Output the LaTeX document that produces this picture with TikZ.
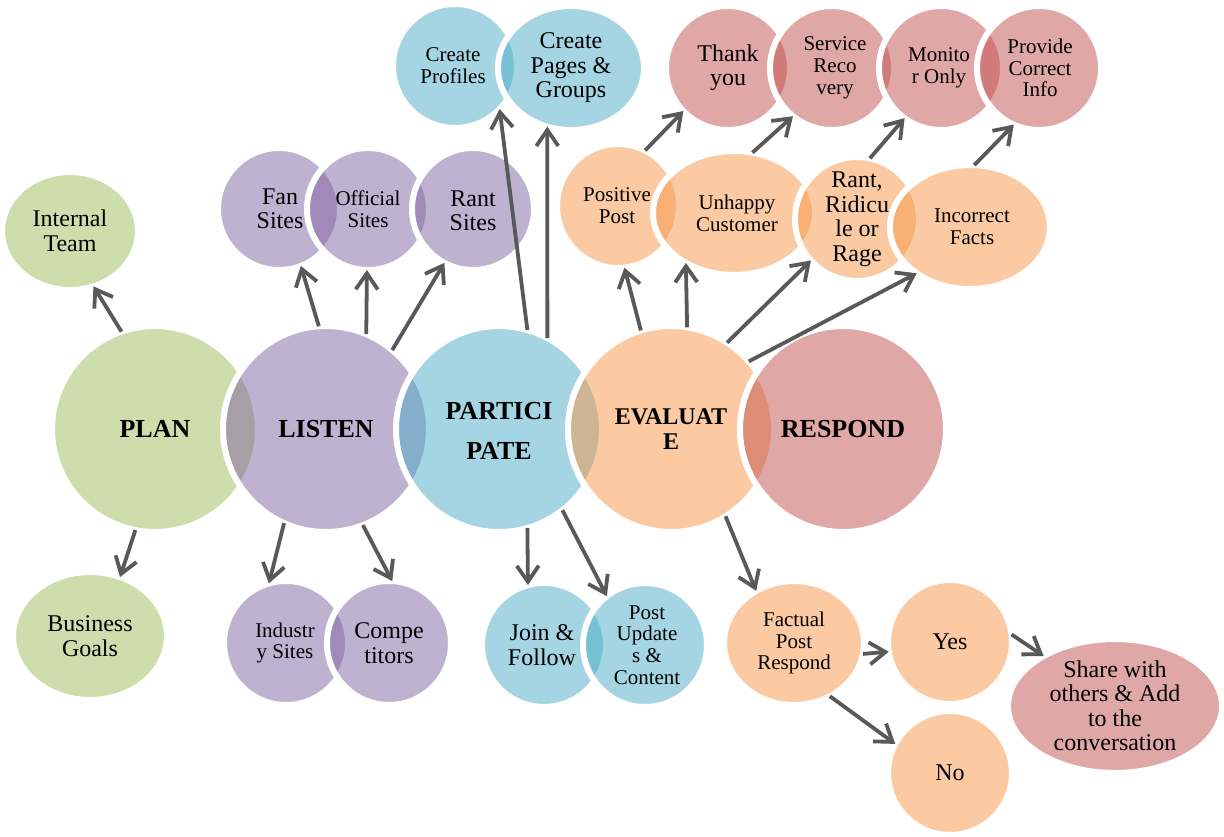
\documentclass[tikz,border=0pt]{standalone}
\usepackage{fontspec}
\setmainfont{Liberation Serif}
\usetikzlibrary{shapes.geometric,arrows.meta}
\definecolor{cgreen}{HTML}{9BBB59}
\definecolor{cpurple}{HTML}{8064A2}
\definecolor{cblue}{HTML}{4BACC6}
\definecolor{corange}{HTML}{F79646}
\definecolor{cred}{HTML}{C0504D}
\definecolor{arrowgray}{HTML}{595959}
\begin{document}
\begin{tikzpicture}[x=1pt,y=-1pt,
  blob/.style={ellipse, inner sep=0pt, outer sep=0pt, draw=white, line width=6pt, fill opacity=0.5},
  sz/.style 2 args={minimum width=#1pt, minimum height=#2pt},
  lbl/.style={align=center, inner sep=0pt, text=black},
  f21/.style={lbl, font=\fontsize{21}{21.7}\selectfont},
  f24/.style={lbl, font=\fontsize{24}{24.5}\selectfont},
  fb26/.style={lbl, font=\bfseries\fontsize{26}{40}\selectfont},
  fb24/.style={lbl, font=\bfseries\fontsize{24}{25}\selectfont},
  arr/.style={draw=arrowgray, line width=3.8pt, -{Straight Barb[length=16pt,width=22pt]}}
]
\useasboundingbox (0,0) rectangle (1224,837);

% ---- main row ----
\node[blob, fill=cgreen, sz={206}{206}] (plan) at (155,429) {};
\node[fb26] (plan-t) at (plan.center) {PLAN};
\node[blob, fill=cpurple, sz={206}{206}] (listen) at (326,429) {};
\node[fb26] (listen-t) at (listen.center) {LISTEN};
\node[blob, fill=cblue, sz={206}{206}] (particip) at (499,429) {};
\node[fb26] (particip-t) at (499,431) {PARTICI\\PATE};
\node[blob, fill=corange, sz={206}{206}] (evaluate) at (671,429) {};
\node[fb24] (evaluate-t) at (671,429) {EVALUAT\\E};
\node[blob, fill=cred, sz={206}{206}] (respond) at (843,429) {};
\node[fb26] (respond-t) at (respond.center) {RESPOND};

% ---- plan satellites ----
\node[blob, fill=cgreen, sz={136}{118}] (internal) at (70,231) {};
\node[f24] (internal-t) at (internal.center) {Internal\\Team};
\node[blob, fill=cgreen, sz={154}{128}] (business) at (90,636) {};
\node[f24] (business-t) at (business.center) {Business\\Goals};

% ---- listen satellites ----
\node[blob, fill=cpurple, sz={122}{122}] (fan) at (279,209) {};
\node[f24] (fan-t) at (280,209) {Fan\\Sites};
\node[blob, fill=cpurple, sz={122}{122}] (official) at (368,209) {};
\node[f21] (official-t) at (368,209) {Official\\Sites};
\node[blob, fill=cpurple, sz={122}{122}] (rant) at (473,209) {};
\node[f24] (rant-t) at (473,211) {Rant\\Sites};

\node[blob, fill=cpurple, sz={124}{124}] (industry) at (286,643) {};
\node[f21] (industry-t) at (285,643) {Industr\\y Sites};
\node[blob, fill=cpurple, sz={124}{124}] (competitors) at (389,643) {};
\node[f24] (competitors-t) at (389,643) {Compe\\titors};

% ---- participate satellites ----
\node[blob, fill=cblue, sz={124}{124}] (profiles) at (455,66) {};
\node[f21] (profiles-t) at (453,66) {Create\\Profiles};
\node[blob, fill=cblue, sz={146}{124}] (pages) at (571,68) {};
\node[f24] (pages-t) at (571,68) {Create\\Pages \&\\Groups};

\node[blob, fill=cblue, sz={124}{124}] (join) at (544,645) {};
\node[f24] (join-t) at (542,645) {Join \&\\Follow};
\node[blob, fill=cblue, sz={124}{124}] (post) at (645,645) {};
\node[f21] (post-t) at (647,645) {Post\\Update\\s \&\\Content};

% ---- evaluate satellites ----
\node[blob, fill=corange, sz={122}{124}] (positive) at (618,206) {};
\node[f21] (positive-t) at (617,206) {Positive\\Post};
\node[blob, fill=corange, sz={162}{124}] (unhappy) at (734,213) {};
\node[f21] (unhappy-t) at (737,213) {Unhappy\\Customer};
\node[blob, fill=corange, sz={124}{124}] (ridicule) at (857,219) {};
\node[f24] (ridicule-t) at (857,219) {Rant,\\Ridicu\\le or\\Rage};
\node[blob, fill=corange, sz={160}{124}] (incorrect) at (970,227) {};
\node[f21] (incorrect-t) at (972,227) {Incorrect\\Facts};

\node[blob, fill=cred, sz={124}{124}] (thank) at (728,68) {};
\node[f24] (thank-t) at (728,68) {Thank\\you};
\node[blob, fill=cred, sz={124}{124}] (service) at (832,68) {};
\node[f21] (service-t) at (835,68) {Service\\Reco\\very};
\node[blob, fill=cred, sz={124}{124}] (monitor) at (941,68) {};
\node[f21] (monitor-t) at (939,68) {Monito\\r Only};
\node[blob, fill=cred, sz={124}{124}] (provide) at (1039,68) {};
\node[f21] (provide-t) at (1040,68) {Provide\\Correct\\Info};

\node[blob, fill=corange, sz={140}{124}] (factual) at (794,643) {};
\node[f21] (factual-t) at (794,643) {Factual\\Post\\Respond};
\node[blob, fill=corange, sz={124}{124}] (yes) at (950,642) {};
\node[f24] (yes-t) at (yes.center) {Yes};
\node[blob, fill=corange, sz={124}{124}] (no) at (950,773) {};
\node[f24] (no-t) at (no.center) {No};
\node[blob, fill=cred, sz={214}{134}] (share) at (1115,706) {};
\node[f24] (share-t) at (share.center) {Share with\\others \& Add\\to the\\conversation};

% ---- connectors ----
\draw[arr] (plan.109) -- (internal.293);
\draw[arr] (plan.259) -- (business.63);
\draw[arr] (listen.94) -- (fan.291);
\draw[arr] (listen.67) -- (official.269);
\draw[arr] (listen.50) -- (rant.242);
\draw[arr] (listen.246) -- (industry.106);
\draw[arr] (listen.291) -- (competitors.87);
\draw[arr] (particip.74) -- (profiles.316);
\draw[arr] (particip.62) -- (pages.248);
\draw[arr] (particip.286) -- (join.105);
\draw[arr] (particip.308) -- (post.128);
\draw[arr] (evaluate.107) -- (positive.276);
\draw[arr] (evaluate.81) -- (unhappy.226);
\draw[arr] (evaluate.57) -- (ridicule.222);
\draw[arr] (evaluate.41) -- (incorrect.221);
\draw[arr] (evaluate.302) -- (factual.126);
\draw[arr] (positive.64) -- (thank.224);
\draw[arr] (unhappy.73) -- (service.231);
\draw[arr] (ridicule.78) -- (monitor.234);
\draw[arr] (incorrect.86) -- (provide.246);
\draw[arr] (factual.351) -- (yes.189);
\draw[arr] (factual.304) -- (no.152);
\draw[arr] (yes.7) -- (share.145);
\end{tikzpicture}
\end{document}
